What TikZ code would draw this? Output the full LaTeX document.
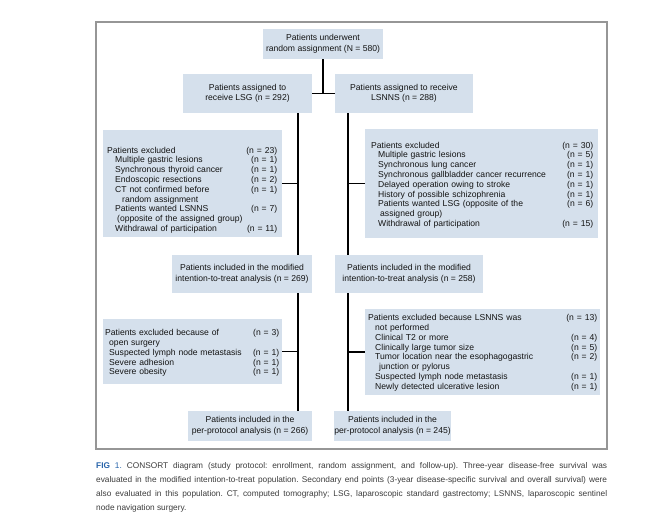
\documentclass[tikz,border=0pt]{standalone}
\usepackage{fontspec}
\setmainfont{Liberation Sans}
\frenchspacing
\definecolor{boxfill}{RGB}{213,224,236}
\definecolor{framegray}{RGB}{150,150,150}
\definecolor{txt}{RGB}{20,20,20}
\definecolor{captxt}{RGB}{60,60,60}
\definecolor{figblue}{RGB}{40,100,170}
\newcommand\xrow[3]{\makebox[\linewidth][l]{\hspace*{#1}#2\hfill#3}\par}
\begin{document}
\begin{tikzpicture}[x=1pt,y=-1pt,
  box/.style={fill=boxfill, inner sep=0pt, align=center, text=txt, font=\fontsize{8.6}{10.5}\selectfont},
  listbox/.style={fill=boxfill, inner sep=0pt},
  listtext/.style={inner sep=0pt, anchor=base west, text=txt, font=\fontsize{8.6}{9.8}\selectfont},
  conn/.style={line width=1.3pt, black},
  frame/.style={draw=framegray, line width=1.1pt}
]
\useasboundingbox (0,0) rectangle (660,515);
\draw[frame] (96,22) rectangle (607,449);

% main flow boxes
\node[box, minimum width=120, minimum height=30] (top) at (323,44) {Patients underwent\\random assignment (N = 580)};
\node[box, minimum width=129, minimum height=39] (lsg) at (247.5,93.5) {Patients assigned to\\receive LSG (n = 292)};
\node[box, minimum width=138, minimum height=39] (lsnns) at (404,93.5) {Patients assigned to receive\\LSNNS (n = 288)};
\node[box, minimum width=140, minimum height=38] (lm) at (242,274) {Patients included in the modified\\intention-to-treat analysis (n = 269)};
\node[box, minimum width=148, minimum height=38] (rm) at (409,274) {Patients included in the modified\\intention-to-treat analysis (n = 258)};
\node[box, minimum width=124, minimum height=30] (bl) at (250,426) {Patients included in the\\per-protocol analysis (n = 266)};
\node[box, minimum width=117, minimum height=30] (br) at (392.5,426) {Patients included in the\\per-protocol analysis (n = 245)};

% exclusion boxes
\node[listbox, minimum width=179, minimum height=107] (l1) at (192.5,183.5) {};
\node[listbox, minimum width=233, minimum height=109] (r1) at (481.5,183.5) {};
\node[listbox, minimum width=179, minimum height=65] (l2) at (192.5,351.5) {};
\node[listbox, minimum width=235, minimum height=86] (r2) at (482.5,352) {};

\node[listtext, text width=170] (l1t) at (107,153) {%
\xrow{0pt}{Patients excluded}{(n = 23)}
\xrow{8pt}{Multiple gastric lesions}{(n = 1)}
\xrow{8pt}{Synchronous thyroid cancer}{(n = 1)}
\xrow{8pt}{Endoscopic resections}{(n = 2)}
\xrow{8pt}{CT not confirmed before}{(n = 1)}
\xrow{15pt}{random assignment}{}
\xrow{8pt}{Patients wanted LSNNS}{(n = 7)}
\xrow{10pt}{(opposite of the assigned group)}{}
\xrow{8pt}{Withdrawal of participation}{(n = 11)}};

\node[listtext, text width=222] (r1t) at (371,148) {%
\xrow{0pt}{Patients excluded}{(n = 30)}
\xrow{7pt}{Multiple gastric lesions}{(n = 5)}
\xrow{7pt}{Synchronous lung cancer}{(n = 1)}
\xrow{7pt}{Synchronous gallbladder cancer recurrence}{(n = 1)}
\xrow{7pt}{Delayed operation owing to stroke}{(n = 1)}
\xrow{7pt}{History of possible schizophrenia}{(n = 1)}
\xrow{7pt}{Patients wanted LSG (opposite of the}{(n = 6)}
\xrow{9pt}{assigned group)}{}
\xrow{7pt}{Withdrawal of participation}{(n = 15)}};

\node[listtext, text width=174] (l2t) at (105,335.7) {%
\xrow{0pt}{Patients excluded because of}{(n = 3)}
\xrow{4pt}{open surgery}{}
\xrow{4pt}{Suspected lymph node metastasis}{(n = 1)}
\xrow{4pt}{Severe adhesion}{(n = 1)}
\xrow{4pt}{Severe obesity}{(n = 1)}};

\node[listtext, text width=229] (r2t) at (368,320.7) {%
\xrow{0pt}{Patients excluded because LSNNS was}{(n = 13)}
\xrow{7pt}{not performed}{}
\xrow{7pt}{Clinical T2 or more}{(n = 4)}
\xrow{7pt}{Clinically large tumor size}{(n = 5)}
\xrow{7pt}{Tumor location near the esophagogastric}{(n = 2)}
\xrow{11pt}{junction or pylorus}{}
\xrow{7pt}{Suspected lymph node metastasis}{(n = 1)}
\xrow{7pt}{Newly detected ulcerative lesion}{(n = 1)}};

% connectors
\coordinate (lx) at (298,0);
\coordinate (rx) at (348,0);
\draw[conn] (top.south) -- (top.south |- lsg.east);
\draw[conn] (lsg.east) -- (lsnns.west);
\draw[conn] (lsg.south -| lx) -- (lm.north -| lx);
\draw[conn] (lm.south -| lx) -- (bl.north -| lx);
\draw[conn] (lsnns.south -| rx) -- (rm.north -| rx);
\draw[conn] (rm.south -| rx) -- (br.north -| rx);
\draw[conn] (l1.east) -- (l1.east -| lx);
\draw[conn] (r1.west) -- (r1.west -| rx);
\draw[conn] (l2.east) -- (l2.east -| lx);
\draw[conn] (r2.west) -- (r2.west -| rx);

% caption
\node[inner sep=0pt, anchor=base west, text width=511, align=justify, text=captxt, font=\fontsize{8.3}{14}\selectfont] (cap) at (96,468) {%
{\color{figblue}\bfseries FIG} {\color{figblue}1.} CONSORT diagram (study protocol: enrollment, random assignment, and follow-up). Three-year disease-free survival was\linebreak
evaluated in the modified intention-to-treat population. Secondary end points (3-year disease-specific survival and overall survival) were\linebreak
also evaluated in this population. CT, computed tomography; LSG, laparoscopic standard gastrectomy; LSNNS, laparoscopic sentinel\linebreak
node navigation surgery.};
\end{tikzpicture}
\end{document}
